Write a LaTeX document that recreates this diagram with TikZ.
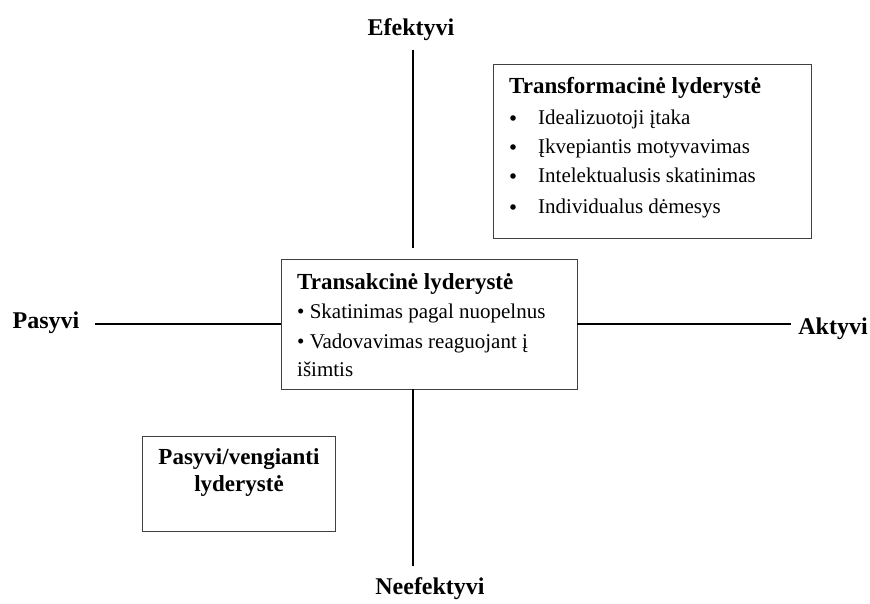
\documentclass[tikz,border=0pt]{standalone}
\usepackage{fontspec}
\setmainfont{Liberation Serif}
\begin{document}
\begin{tikzpicture}[x=1pt,y=-1pt,
  frame/.style={draw=black!75,line width=0.9pt,rectangle,inner sep=0pt},
  axislbl/.style={inner sep=0pt,anchor=base,font=\fontsize{24}{28}\selectfont\bfseries},
  boxtitle/.style={inner sep=0pt,anchor=base west,font=\fontsize{23}{27}\selectfont\bfseries},
  item/.style={inner sep=0pt,anchor=base west,font=\fontsize{21}{25}\selectfont},
  dot/.style={circle,fill=black,inner sep=0pt,minimum size=5.6pt},
  axis/.style={line width=1.2pt}]
\useasboundingbox (0,0) rectangle (870,604);

% boxes
\node[frame,minimum width=318pt,minimum height=174pt] (tf) at (652,151) {};
\node[frame,minimum width=296pt,minimum height=130pt] (tr) at (429,324) {};
\node[frame,minimum width=193pt,minimum height=95pt] (pv) at (238.5,483.5) {};

% axis labels
\node[axislbl] (eff) at (411,36) {Efektyvi};
\node[axislbl] (neff) at (430,594) {Neefektyvi};
\node[axislbl] (pas) at (46,328) {Pasyvi};
\node[axislbl] (akt) at (833,334) {Aktyvi};

% axis ends
\coordinate (vtop) at (413,50);
\coordinate (vgap) at (413,248);
\coordinate (vbot) at (413,566);
\coordinate (hleft) at (95,324);
\coordinate (hright) at (791,324);

\draw[axis] (vtop) -- (vgap);
\draw[axis] (tr.south -| vtop) -- (vbot);
\draw[axis] (hleft) -- (tr.west);
\draw[axis] (tr.east) -- (hright);

% transformational leadership
\node[boxtitle] (tft) at (509,94) {Transformacinė lyderystė};
\node[dot] (b1) at (513,118) {};
\node[item] (t1) at (538,125) {Idealizuotoji įtaka};
\node[dot] (b2) at (513,147) {};
\node[item] (t2) at (538,154) {Įkvepiantis motyvavimas};
\node[dot] (b3) at (513,176) {};
\node[item] (t3) at (538,183) {Intelektualusis skatinimas};
\node[dot] (b4) at (513,207) {};
\node[item] (t4) at (538,214) {Individualus dėmesys};

% transactional leadership
\node[boxtitle] (trt) at (297,289) {Transakcinė lyderystė};
\node[item] (r1) at (297,318) {• Skatinimas pagal nuopelnus};
\node[item] (r2) at (297,348) {• Vadovavimas reaguojant į};
\node[item] (r3) at (297,376) {išimtis};

% passive/avoidant leadership
\node[inner sep=0pt,anchor=base,font=\fontsize{23}{27}\selectfont\bfseries] (pv1) at (239,464) {Pasyvi/vengianti};
\node[inner sep=0pt,anchor=base,font=\fontsize{23}{27}\selectfont\bfseries] (pv2) at (239,491) {lyderystė};
\end{tikzpicture}
\end{document}
